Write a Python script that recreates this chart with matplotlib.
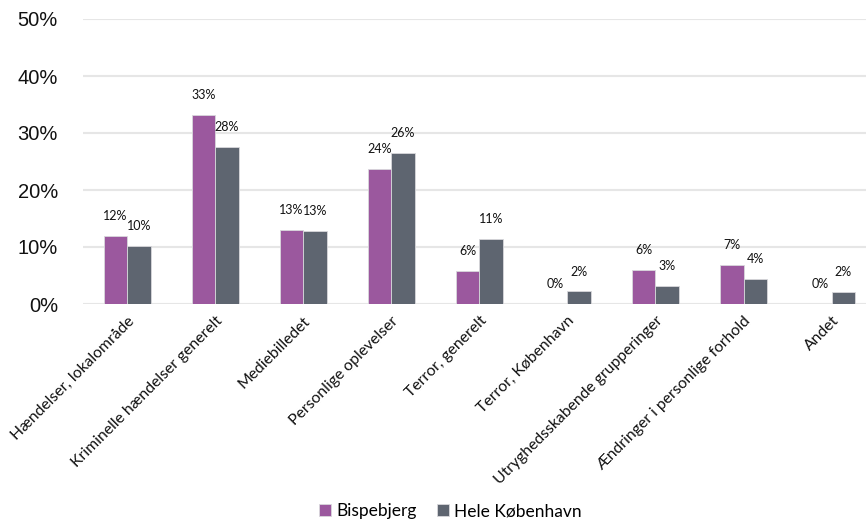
import matplotlib.pyplot as plt
import numpy as np

# data
categories = [
    "Hændelser, lokalområde",
    "Kriminelle hændelser generelt",
    "Mediebilledet",
    "Personlige oplevelser",
    "Terror, generelt",
    "Terror, København",
    "Utryghedsskabende grupperinger",
    "Ændringer i personlige forhold",
    "Andet",
]
bispebjerg = [0.119, 0.332, 0.130, 0.237, 0.058, 0.0, 0.060, 0.068, 0.0]
hele_kbh = [0.102, 0.275, 0.128, 0.265, 0.114, 0.022, 0.032, 0.044, 0.021]
series_names = ["Bispebjerg", "Hele København"]
colors = ["#9B589E", "#5E6570"]

label_font = "Lato"

fig = plt.figure(figsize=(8.66, 5.27), dpi=100)
ax = fig.add_axes([83 / 866, 1 - 304 / 527, 783 / 866, 285 / 527])

x = np.arange(len(categories))
w = 0.267
for i, (vals, name, col) in enumerate(zip([bispebjerg, hele_kbh], series_names, colors)):
    pos = x + (i - 0.5) * w
    ax.bar(pos, vals, width=w, color=col, label=name,
           edgecolor="#D8D8DC", linewidth=0.6, zorder=3)
    for xp, v in zip(pos, vals):
        ax.annotate(f"{v * 100:.0f}%", (xp, v), xytext=(0, 10),
                    textcoords="offset points", ha="center", va="bottom",
                    fontsize=9, family=label_font, color="#111111")

ax.set_xlim(-0.5, 8.39)
ax.set_ylim(0, 0.5)
ax.set_yticks(np.arange(0, 0.51, 0.1))
ax.set_yticklabels([f"{t}%" for t in range(0, 51, 10)],
                   fontsize=14.5, family="Liberation Sans", color="#111111")
ax.tick_params(axis="y", length=0, pad=18)
ax.tick_params(axis="x", length=0, pad=7)
ax.grid(axis="y", color="#E6E6E6", linewidth=1.5, zorder=0)
for s in ax.spines.values():
    s.set_visible(False)

ax.set_xticks(x)
ax.set_xticklabels(categories, rotation=45, ha="right", rotation_mode="anchor",
                   fontsize=11.3, family=label_font, color="#111111")

fig.legend(loc="lower center", bbox_to_anchor=(0.52, -0.015), ncol=2, frameon=False,
           handlelength=0.7, handleheight=0.7, handletextpad=0.3, columnspacing=1.2,
           prop={"family": label_font, "size": 12.5})

fig.savefig("out.png", dpi=100)
